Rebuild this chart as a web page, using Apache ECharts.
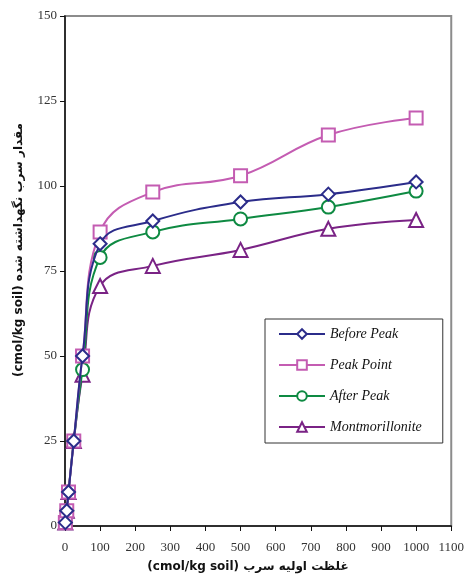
<!DOCTYPE html>
<html>
<head>
<meta charset="utf-8">
<style>
  html, body { margin: 0; padding: 0; background: #fff; }
  #chart { width: 467px; height: 578px; }
</style>
<script src="https://cdn.jsdelivr.net/npm/echarts@6/dist/echarts.min.js"></script>
</head>
<body>
<div id="chart"></div>
<script>
// Initial lead concentration (cmol/kg soil)
const concentrations = [1, 5, 10, 25, 50, 100, 250, 500, 750, 1000];

// Retained lead (cmol/kg soil) for each sample
const beforePeak      = [1, 4.5, 10, 25, 50, 83, 89.7, 95.3, 97.6, 101.2];
const peakPoint       = [1, 4.5, 10, 25, 50, 86.5, 98.2, 103, 115, 120];
const afterPeak       = [1, 4.5, 10, 25, 46, 79, 86.5, 90.3, 93.8, 98.5];
const montmorillonite = [1, 4.5, 10, 25, 44.5, 70.6, 76.5, 81.2, 87.4, 90];

const seriesNames = ['Before Peak', 'Peak Point', 'After Peak', 'Montmorillonite'];
const seriesValues = [beforePeak, peakPoint, afterPeak, montmorillonite];
const seriesColors = ['#2B2C8A', '#C45CB2', '#0E8A42', '#7A2385'];
const seriesSymbols = ['diamond', 'rect', 'circle', 'triangle'];
const seriesSymbolSizes = [13, 13, 13, 14];

const xTitle = '(cmol/kg soil) غلظت اولیه سرب';
const yTitle = '(cmol/kg soil) مقدار سرب نگهداشته شده';

const chart = echarts.init(document.getElementById('chart'), null, { renderer: 'canvas' });

const series = seriesNames.map((name, i) => ({
  name,
  type: 'line',
  data: concentrations.map((x, j) => [x, seriesValues[i][j]]),
  smooth: 0.42,
  clip: false,
  symbol: seriesSymbols[i],
  symbolSize: seriesSymbolSizes[i],
  showAllSymbol: true,
  lineStyle: { color: seriesColors[i], width: 2 },
  itemStyle: { color: '#fff', borderColor: seriesColors[i], borderWidth: 2 },
  emphasis: { disabled: true },
  z: 10 - i
}));

const titleStyle = {
  fontFamily: 'DejaVu Sans',
  fontWeight: 'bold',
  fontSize: 12,
  fill: '#111',
  align: 'center',
  verticalAlign: 'middle'
};

chart.setOption({
  animation: false,
  backgroundColor: '#fff',
  textStyle: { fontFamily: 'Liberation Serif' },
  grid: {
    left: 65, top: 16, right: 15, bottom: 52,
    show: true,
    borderColor: '#8c8c8c',
    borderWidth: 2,
    backgroundColor: 'transparent'
  },
  legend: {
    orient: 'vertical',
    left: 265,
    top: 319,
    data: seriesNames,
    itemWidth: 46,
    itemHeight: 12,
    itemGap: 17,
    padding: [8, 21, 9, 13],
    borderColor: '#333',
    borderWidth: 1,
    backgroundColor: '#fff',
    textStyle: {
      fontFamily: 'Liberation Serif',
      fontStyle: 'italic',
      fontSize: 14,
      color: '#111'
    }
  },
  xAxis: {
    type: 'value',
    min: 0,
    max: 1100,
    interval: 100,
    splitLine: { show: false },
    axisLine: { show: true, onZero: false, lineStyle: { color: '#111', width: 1.5 } },
    axisTick: { show: true, length: 5, lineStyle: { color: '#111' } },
    axisLabel: {
      color: '#333', fontSize: 13, fontFamily: 'Liberation Serif', margin: 15,
      formatter: v => String(v)
    }
  },
  yAxis: {
    type: 'value',
    min: 0,
    max: 150,
    interval: 25,
    splitLine: { show: false },
    axisLine: { show: true, onZero: false, lineStyle: { color: '#111', width: 1.5 } },
    axisTick: { show: true, length: 5, lineStyle: { color: '#111' } },
    axisLabel: {
      color: '#333', fontSize: 13, fontFamily: 'Liberation Serif', margin: 8,
      formatter: v => String(v)
    }
  },
  graphic: [
    {
      type: 'text',
      x: 248, y: 567,
      style: Object.assign({ text: xTitle }, titleStyle)
    },
    {
      type: 'text',
      x: 19, y: 250,
      rotation: Math.PI / 2,
      style: Object.assign({ text: yTitle }, titleStyle)
    }
  ],
  series
});
</script>
</body>
</html>
